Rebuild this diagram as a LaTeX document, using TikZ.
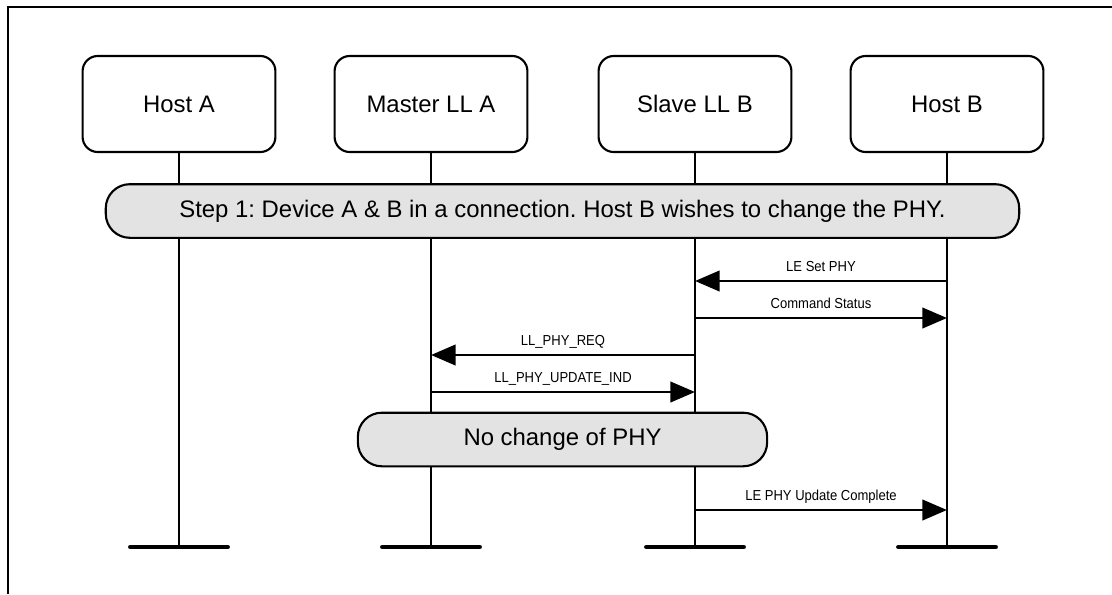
\documentclass[tikz,border=0pt]{standalone}
\usepackage{fontspec}
\setmainfont{Liberation Sans}
\newfontfamily\msgfont[FakeStretch=0.9]{Liberation Sans}
\usetikzlibrary{arrows.meta}
\frenchspacing

\begin{document}
\begin{tikzpicture}[x=0.025cm, y=-0.025cm, >={Triangle[length=17.5pt, width=14.5pt]},
    entity/.style={draw, line width=1.5pt, rounded corners=0.38cm, minimum width=4.82cm, minimum height=2.4cm, font=\fontsize{17}{20}\selectfont},
    phase/.style={draw, line width=1.5pt, fill=gray!22, rounded corners=0.6cm, minimum height=1.34cm, font=\fontsize{17}{20}\selectfont},
    life/.style={line width=1.4pt},
    msg/.style={line width=2pt, ->},
    lbl/.style={font=\msgfont\fontsize{10.3}{12}\selectfont, anchor=base, yshift=6.5pt},
    foot/.style={line width=3.5pt, line cap=round}]
    \useasboundingbox (0,0) rectangle (1112,594);

    % Draw frame
    \draw[line width=1.8pt] (8,594) -- (8,7) -- (1112,7);

    % Draw entities
    \node[entity] (hostA) at (179,104) {Host A};
    \node[entity] (llA) at (431,104) {Master LL A};
    \node[entity] (llB) at (695,104) {Slave LL B};
    \node[entity] (hostB) at (947,104) {Host B};

    % Draw lifelines with feet
    \foreach \e in {hostA, llA, llB, hostB} {
        \coordinate (\e-end) at (\e |- 0,547);
        \draw[life] (\e) -- (\e-end);
        \draw[foot] ([xshift=-34.5pt]\e-end) -- ([xshift=34.5pt]\e-end);
    }

    % Draw phases
    \node[phase, minimum width=22.83cm] (step) at (562.5,211) {Step 1: Device A \& B in a connection. Host B wishes to change the PHY.};
    \node[phase, minimum width=10.23cm] (nochange) at (562.5,439.5) {No change of PHY};

    % Draw messages
    \draw[msg] (hostB |- 0,281) -- node[lbl] {LE Set PHY} (llB |- 0,281);
    \draw[msg] (llB |- 0,318) -- node[lbl] {Command Status} (hostB |- 0,318);
    \draw[msg] (llB |- 0,355) -- node[lbl] {LL\_PHY\_REQ} (llA |- 0,355);
    \draw[msg] (llA |- 0,392) -- node[lbl] {LL\_PHY\_UPDATE\_IND} (llB |- 0,392);
    \draw[msg] (llB |- 0,510) -- node[lbl] {LE PHY Update Complete} (hostB |- 0,510);

\end{tikzpicture}
\end{document}
